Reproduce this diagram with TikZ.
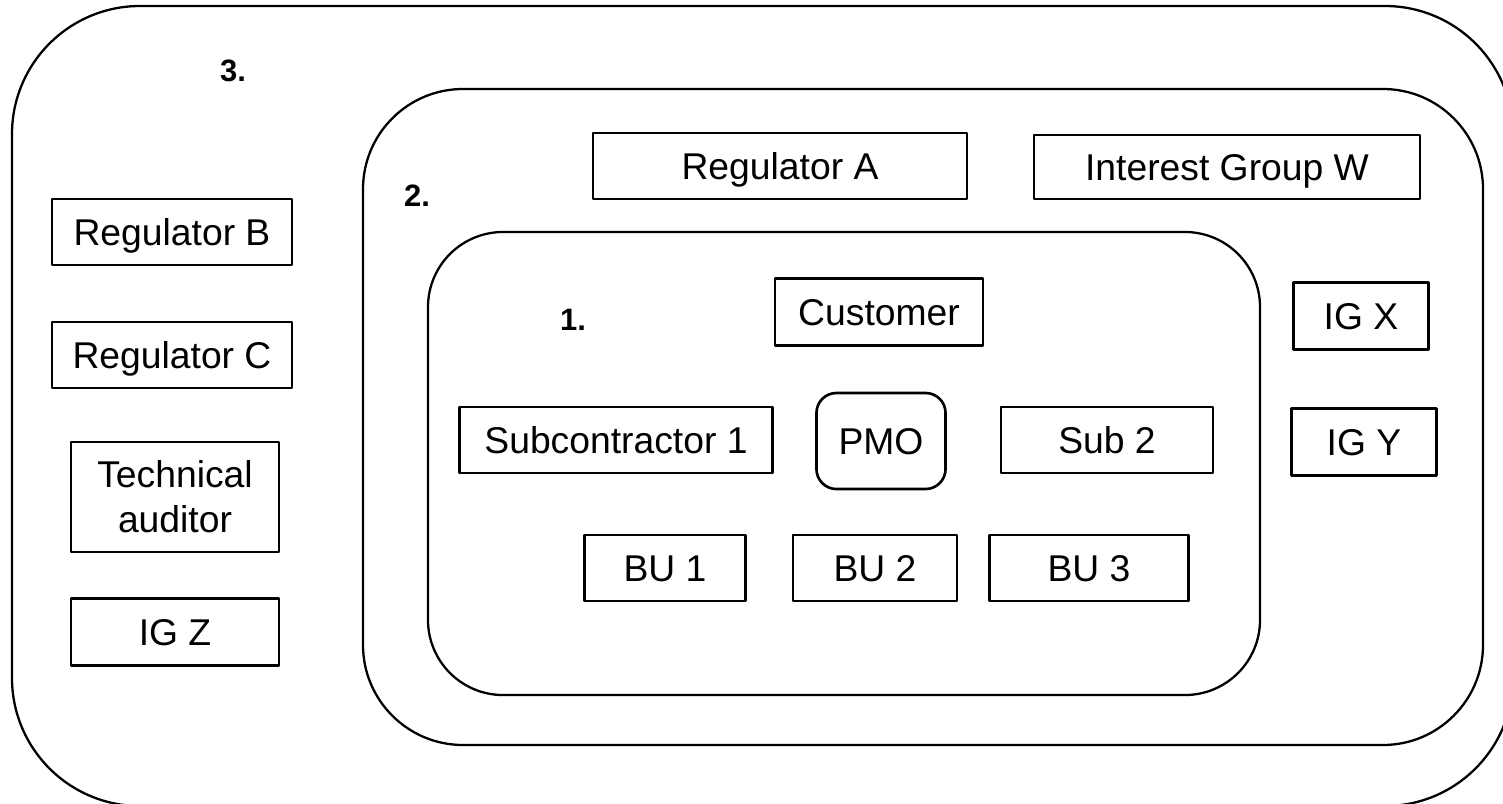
\documentclass[tikz,border=0pt]{standalone}
\usepackage{fontspec}
\setmainfont{Liberation Sans}
\begin{document}
\begin{tikzpicture}
          [x=0.01cm,y=-0.01cm,line join=round,
           box/.style={draw,line width=0.75pt,inner sep=0pt,align=center,
                       text height=7.6pt,text depth=0pt,
                       font=\fontsize{10.6}{12.8}\selectfont},
           ring/.style={line width=0.65pt},
           tag/.style={font=\fontsize{8.8}{10}\selectfont\bfseries}]
          \useasboundingbox (0,0) rectangle (1503,803);
          \clip (0,0) rectangle (1503,803);

          % the three nested circles of stakeholders
          \draw[ring,rounded corners=1.28cm] (12,6) rectangle (1513,806);
          \draw[ring,rounded corners=1.0cm] (363,89) rectangle (1483,745);
          \draw[ring,rounded corners=0.75cm] (428,232) rectangle (1260,695);

          \node[tag] (l3) at (233,71)  {3.};
          \node[tag] (l2) at (417,196) {2.};
          \node[tag] (l1) at (573,320) {1.};

          % outer ring
          \node[box,minimum width=2.40cm,minimum height=0.66cm] (regB) at (172,232) {Regulator B};
          \node[box,minimum width=2.40cm,minimum height=0.66cm] (regC) at (172,355) {Regulator C};
          \node[box,text height=20.4pt,minimum width=2.08cm,minimum height=1.10cm] (tech) at (175,497) {Technical\\auditor};
          \node[box,minimum width=2.08cm,minimum height=0.67cm] (igZ)  at (175,632) {IG Z};

          % middle ring
          \node[box,minimum width=3.74cm,minimum height=0.66cm] (regA) at (780,166)  {Regulator A};
          \node[box,minimum width=3.86cm,minimum height=0.64cm] (igW)  at (1227,167) {Interest Group W};
          \node[box,minimum width=1.35cm,minimum height=0.67cm] (igX)  at (1361,316) {IG X};
          \node[box,minimum width=1.45cm,minimum height=0.67cm] (igY)  at (1364,442) {IG Y};

          % core
          \node[box,minimum width=2.08cm,minimum height=0.67cm] (cust) at (879,312)  {Customer};
          \node[box,minimum width=3.13cm,minimum height=0.66cm] (sub1) at (616,440)  {Subcontractor 1};
          \node[box,rounded corners=0.2cm,minimum width=1.29cm,minimum height=0.96cm] (pmo) at (881,441) {PMO};
          \node[box,minimum width=2.12cm,minimum height=0.66cm] (sub2) at (1107,440) {Sub 2};
          \node[box,minimum width=1.61cm,minimum height=0.66cm] (bu1)  at (665,568)  {BU 1};
          \node[box,minimum width=1.64cm,minimum height=0.66cm] (bu2)  at (875,568)  {BU 2};
          \node[box,minimum width=1.99cm,minimum height=0.66cm] (bu3)  at (1089,568) {BU 3};

        \end{tikzpicture}
\end{document}
